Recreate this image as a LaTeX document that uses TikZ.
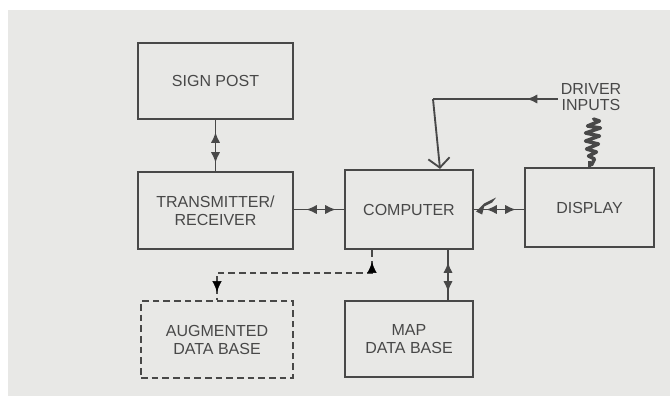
\documentclass[tikz,border=0pt]{standalone}
\usepackage{fontspec}
\setmainfont{Liberation Sans}
\usetikzlibrary{arrows.meta,decorations.markings}
\definecolor{bgc}{HTML}{E8E8E6}
\definecolor{linec}{HTML}{484848}
\definecolor{textc}{HTML}{484848}
\tikzset{
  box/.style={draw=linec, line width=1.7pt, fill=bgc, inner sep=0pt, align=center,
    text=textc, font=\fontsize{12pt}{13.5pt}\selectfont},
  dbox/.style={box, dashed, dash pattern=on 5pt off 3pt},
  conn/.style={draw=linec, line width=1.4pt},
  tipA/.tip={Latex[length=8pt,width=7pt]},
  twoway/.style={conn, postaction={decorate}, decoration={markings,
    mark=at position 9pt with {\arrowreversed{tipA}},
    mark=at position -6pt with {\arrow{tipA}}}},
  midleft/.style={postaction={decorate}, decoration={markings,
    mark=at position 0.25 with {\arrow{tipA}}}}
}
\begin{document}
\begin{tikzpicture}[x=0.75pt,y=-0.75pt]
\useasboundingbox (0,0) rectangle (670,396);
\fill[white] (0,0) rectangle (670,396);
\fill[bgc] (8,10) rectangle (670,396);

\node[box, minimum width=116.25pt, minimum height=57pt] (sign) at (215.5,81) {SIGN POST};
\node[box, minimum width=116.25pt, minimum height=57.75pt] (trans) at (215.5,210.5) {TRANSMITTER/\\RECEIVER};
\node[box, minimum width=96pt, minimum height=59.25pt] (comp) at (409,209.5) {COMPUTER};
\node[box, minimum width=96.75pt, minimum height=59.25pt] (disp) at (589.5,207.5) {DISPLAY};
\node[dbox, minimum width=114pt, minimum height=57.75pt] (aug) at (217,339.5) {AUGMENTED\\DATA BASE};
\node[box, minimum width=96pt, minimum height=57pt] (map) at (409,339) {MAP\\DATA BASE};
\node[align=center, text=textc, inner sep=2pt, font=\fontsize{12pt}{12.5pt}\selectfont] (drv) at (591,97) {DRIVER\\INPUTS};

% sign post <-> transmitter
\draw[twoway] (sign.south) -- (trans.north);
% transmitter <-> computer
\draw[twoway] (trans.east |- comp.west) -- (comp.west);
% computer <-> display
\draw[twoway] (comp.east) -- (comp.east -| disp.west);
\fill[linec] (comp.east) ++(2,2) -- ++(8,-8) -- ++(12,-6) -- ++(-4,5) -- ++(-8,4) -- ++(-2,8) -- cycle;
% computer <-> map data base
\coordinate (mx) at (448,0);
\draw[twoway] (comp.south -| mx) -- (map.north -| mx);
% computer <-> augmented data base (dashed)
\coordinate (dx) at (372,273);
\draw[conn, dashed, dash pattern=on 5pt off 3pt] (comp.south -| dx) -- (dx) -- (dx -| aug.north) -- (aug.north);
\draw[draw=none, postaction={decorate}, decoration={markings,
    mark=at position 9pt with {\arrowreversed{tipA}}}] (comp.south -| dx) -- (dx);
\draw[draw=none, postaction={decorate}, decoration={markings,
    mark=at position -6pt with {\arrow{tipA}}}] (dx -| aug.north) -- (aug.north);
% driver inputs -> computer
\coordinate (dc) at (433,99);
\coordinate (dt) at (440,0);
\draw[conn, midleft] (drv.west |- dc) -- (dc);
\draw[conn, -{Straight Barb[length=7pt,width=16pt,line width=1.4pt]}] (dc) -- (comp.north -| dt);
% scribble from driver inputs to display
\draw[draw=linec, line width=2.6pt, line cap=round, line join=round]
  (dc -| disp.north) ++(4,20) -- ++(6,2) -- ++(-12,5) -- ++(13,2) -- ++(-15,5)
  -- ++(14,3) -- ++(-14,5) -- ++(13,3) -- ++(-12,5) -- ++(10,3) -- ++(-8,4) -- ++(6,3) -- ++(-3,6);
\draw[draw=linec, line width=1.6pt] (disp.north) ++(0,-6) -- (disp.north);
\end{tikzpicture}
\end{document}
